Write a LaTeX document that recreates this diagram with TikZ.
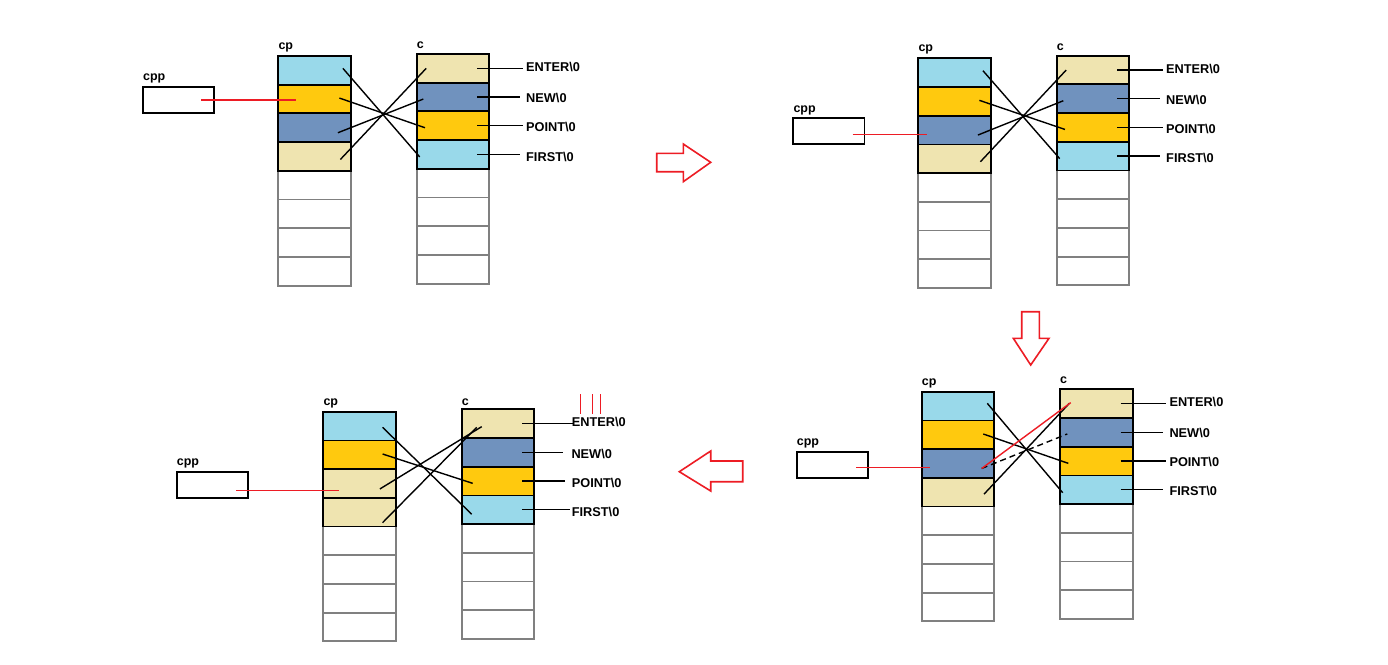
\documentclass[tikz,border=0pt]{standalone}
\usepackage{fontspec}
\setmainfont{Liberation Sans}
\definecolor{cblue}{HTML}{99D9EA}
\definecolor{cgold}{HTML}{FFC90E}
\definecolor{csteel}{HTML}{7092BE}
\definecolor{cbeige}{HTML}{EFE4B0}
\definecolor{cred}{HTML}{ED1C24}
\definecolor{cgray}{HTML}{808080}
% column of 8 cells: #1 prefix, #2 x, #3 y(top), #4..#7 fill colours
\newcommand\memcol[7]{%
  \foreach \k in {5,6,7,8}{\node[ecell] (#1\k) at (#2,{#3+(\k-1)*28.7}) {};}
  \node[fcell,fill=#4] (#11) at (#2,#3) {};
  \node[fcell,fill=#5] (#12) at (#2,{#3+28.7}) {};
  \node[fcell,fill=#6] (#13) at (#2,{#3+57.4}) {};
  \node[fcell,fill=#7] (#14) at (#2,{#3+86.1}) {};
}
% label with its leader line: #1 cell, #2 label name, #3 position, #4 text, #5 line end shift
\newcommand\memlab[5]{%
  \node[lbltxt] (#2) at #3 {#4};
  \coordinate (#2s) at ([xshift=-12bp]#1.east);
  \coordinate (#2e) at ([xshift=#5bp]#2.west);
  \draw[conn] (#2s) -- (#2s -| #2e);
}
\begin{document}
\begin{tikzpicture}[x=1bp,y=-1bp,
  cellbase/.style={rectangle,anchor=north west,minimum width=72.6bp,minimum height=28.7bp,inner sep=0pt,outer sep=0pt},
  ecell/.style={cellbase,draw=cgray,line width=1.8bp,fill=white},
  fcell/.style={cellbase,draw=black,line width=1.8bp},
  cppbox/.style={rectangle,anchor=north west,minimum width=71.3bp,minimum height=26bp,inner sep=0pt,outer sep=0pt,draw=black,line width=1.7bp},
  nm/.style={anchor=base west,inner sep=0pt,font=\bfseries\fontsize{12.5}{14}\selectfont},
  lbltxt/.style={anchor=west,inner xsep=3bp,inner ysep=0pt,font=\bfseries\fontsize{12.8}{15}\selectfont},
  conn/.style={draw=black,line width=1.4bp},
  redl/.style={draw=cred,line width=1.4bp},
  dashconn/.style={conn,dash pattern=on 6bp off 4bp},
  bigarrow/.style={draw=cred,line width=1.6bp,fill=white,line join=miter}]
\useasboundingbox[fill=white] (0,0) rectangle (1388,665);

% ---------------- panel 1 (top left) ----------------
\memcol{aP}{278.3}{56}{cblue}{cgold}{csteel}{cbeige}
\memcol{aC}{416.7}{54}{cbeige}{csteel}{cgold}{cblue}
\node[cppbox] (aX) at (143,87) {};
\node[nm] (aXn) at ([yshift=6.5bp]aX.north west) {cpp};
\node[nm] (aPn) at ([yshift=6.5bp]aP1.north west) {cp};
\node[nm] (aCn) at ([yshift=5.5bp]aC1.north west) {c};
\memlab{aC1}{aLE}{(523,66.7)}{ENTER\textbackslash 0}{0}
\memlab{aC2}{aLN}{(523,98)}{NEW\textbackslash 0}{-3}
\memlab{aC3}{aLP}{(523,127)}{POINT\textbackslash 0}{0}
\memlab{aC4}{aLF}{(523,157)}{FIRST\textbackslash 0}{-3}
\draw[conn] ([shift={(-8,-2)}]aP1.east) -- ([shift={(3,2.5)}]aC4.west);
\draw[conn] ([shift={(-11.5,-1)}]aP2.east) -- ([shift={(8.3,2)}]aC3.west);
\draw[conn] ([shift={(-13,5)}]aP3.east) -- ([shift={(6.6,2)}]aC2.west);
\draw[conn] ([shift={(-10.5,3)}]aP4.east) -- ([shift={(9.5,0)}]aC1.west);
\coordinate (aRe) at ([shift={(18,1)}]aP2.west);
\coordinate (aRs) at ([xshift=-13bp]aX.east);
\draw[redl] (aRs |- aRe) -- (aRe);

% ---------------- panel 2 (top right) ----------------
\memcol{bP}{918.3}{58.3}{cblue}{cgold}{csteel}{cbeige}
\memcol{bC}{1056.7}{55.7}{cbeige}{csteel}{cgold}{cblue}
\node[cppbox] (bX) at (793.3,118.3) {};
\node[nm] (bXn) at ([yshift=6bp]bX.north west) {cpp};
\node[nm] (bPn) at ([yshift=6.5bp]bP1.north west) {cp};
\node[nm] (bCn) at ([yshift=5.5bp]bC1.north west) {c};
\memlab{bC1}{bLE}{(1163,68.7)}{ENTER\textbackslash 0}{0}
\memlab{bC2}{bLN}{(1163,100)}{NEW\textbackslash 0}{-3}
\memlab{bC3}{bLP}{(1163,129)}{POINT\textbackslash 0}{0}
\memlab{bC4}{bLF}{(1163,158)}{FIRST\textbackslash 0}{-3}
\draw[conn] ([shift={(-8,-2)}]bP1.east) -- ([shift={(3,2.5)}]bC4.west);
\draw[conn] ([shift={(-11.5,-1)}]bP2.east) -- ([shift={(8.3,2)}]bC3.west);
\draw[conn] ([shift={(-13,5)}]bP3.east) -- ([shift={(6.6,2)}]bC2.west);
\draw[conn] ([shift={(-10.5,3)}]bP4.east) -- ([shift={(9.5,0)}]bC1.west);
\coordinate (bRe) at ([shift={(8.4,4.3)}]bP3.west);
\coordinate (bRs) at ([xshift=-12bp]bX.east);
\draw[redl] (bRs |- bRe) -- (bRe);

% ---------------- panel 3 (bottom right) ----------------
\memcol{cP}{921.7}{391.7}{cblue}{cgold}{csteel}{cbeige}
\memcol{cC}{1060}{389.3}{cbeige}{csteel}{cgold}{cblue}
\node[cppbox] (cX) at (796.7,451.7) {};
\node[nm] (cXn) at ([yshift=6.5bp]cX.north west) {cpp};
\node[nm] (cPn) at ([yshift=6.5bp]cP1.north west) {cp};
\node[nm] (cCn) at ([yshift=5.5bp]cC1.north west) {c};
\memlab{cC1}{cLE}{(1166.3,401.7)}{ENTER\textbackslash 0}{0}
\memlab{cC2}{cLN}{(1166.3,432.7)}{NEW\textbackslash 0}{-3.5}
\memlab{cC3}{cLP}{(1166.3,461.7)}{POINT\textbackslash 0}{0}
\memlab{cC4}{cLF}{(1166.3,491)}{FIRST\textbackslash 0}{-3}
\draw[conn] ([shift={(-7,-2.7)}]cP1.east) -- ([shift={(2.7,3)}]cC4.west);
\draw[conn] ([shift={(-11,-0.75)}]cP2.east) -- ([shift={(8.3,2.3)}]cC3.west);
\draw[dashconn] ([shift={(-12.6,5)}]cP3.east) -- ([shift={(7.3,1.6)}]cC2.west);
\draw[conn] ([shift={(-10.3,2)}]cP4.east) -- ([shift={(9.3,-0.3)}]cC1.west);
\draw[redl] ([shift={(-12.6,5)}]cP3.east) -- ([shift={(10.7,-1)}]cC1.west);
\coordinate (cRe) at ([shift={(8.3,3.9)}]cP3.west);
\coordinate (cRs) at ([xshift=-12bp]cX.east);
\draw[redl] (cRs |- cRe) -- (cRe);

% ---------------- panel 4 (bottom left) ----------------
\memcol{dP}{323.3}{411.7}{cblue}{cgold}{cbeige}{cbeige}
\memcol{dC}{461.7}{409.3}{cbeige}{csteel}{cgold}{cblue}
\node[cppbox] (dX) at (176.7,471.7) {};
\node[nm] (dXn) at ([yshift=6bp]dX.north west) {cpp};
\node[nm] (dPn) at ([yshift=6bp]dP1.north west) {cp};
\node[nm] (dCn) at ([yshift=4bp]dC1.north west) {c};
\memlab{dC1}{dLE}{(568.7,421.7)}{ENTER\textbackslash 0}{4.6}
\memlab{dC2}{dLN}{(568.3,454.3)}{NEW\textbackslash 0}{-5}
\memlab{dC3}{dLP}{(568.7,482.7)}{POINT\textbackslash 0}{-3.7}
\memlab{dC4}{dLF}{(568.7,512.3)}{FIRST\textbackslash 0}{1.3}
\draw[conn] ([shift={(-13.3,1.3)}]dP1.east) -- ([shift={(10,4.5)}]dC4.west);
\draw[conn] ([shift={(-13.3,-0.75)}]dP2.east) -- ([shift={(11,2.3)}]dC3.west);
\draw[conn] ([shift={(-16,5.5)}]dP3.east) -- ([shift={(20,3)}]dC1.west);
\draw[conn] ([shift={(-13.3,10.5)}]dP4.east) -- ([shift={(15,3.7)}]dC1.west);
\coordinate (dRe) at ([shift={(16,7.2)}]dP3.west);
\coordinate (dRs) at ([xshift=-12bp]dX.east);
\draw[redl] (dRs |- dRe) -- (dRe);
\draw[redl] (580.7,394.3) -- (580.7,414.3);
\draw[redl] (592.7,394.3) -- (592.7,414.3);
\draw[redl] (600.7,394.3) -- (600.7,414.3);

% ---------------- big red arrows ----------------
\draw[bigarrow] (656.7,153.3) -- (683.3,153.3) -- (683.3,144) -- (710.7,162.3)
  -- (683.3,181.7) -- (683.3,171.7) -- (656.7,171.7) -- cycle;
\draw[bigarrow] (1021.7,311.7) -- (1039.3,311.7) -- (1039.3,338.3) -- (1049,338.3)
  -- (1030.7,365) -- (1013.3,338.3) -- (1021.7,338.3) -- cycle;
\draw[bigarrow] (742.7,461) -- (710.7,461) -- (710.7,451) -- (679.3,471.7)
  -- (710.7,491) -- (710.7,481.7) -- (742.7,481.7) -- cycle;
\end{tikzpicture}
\end{document}
